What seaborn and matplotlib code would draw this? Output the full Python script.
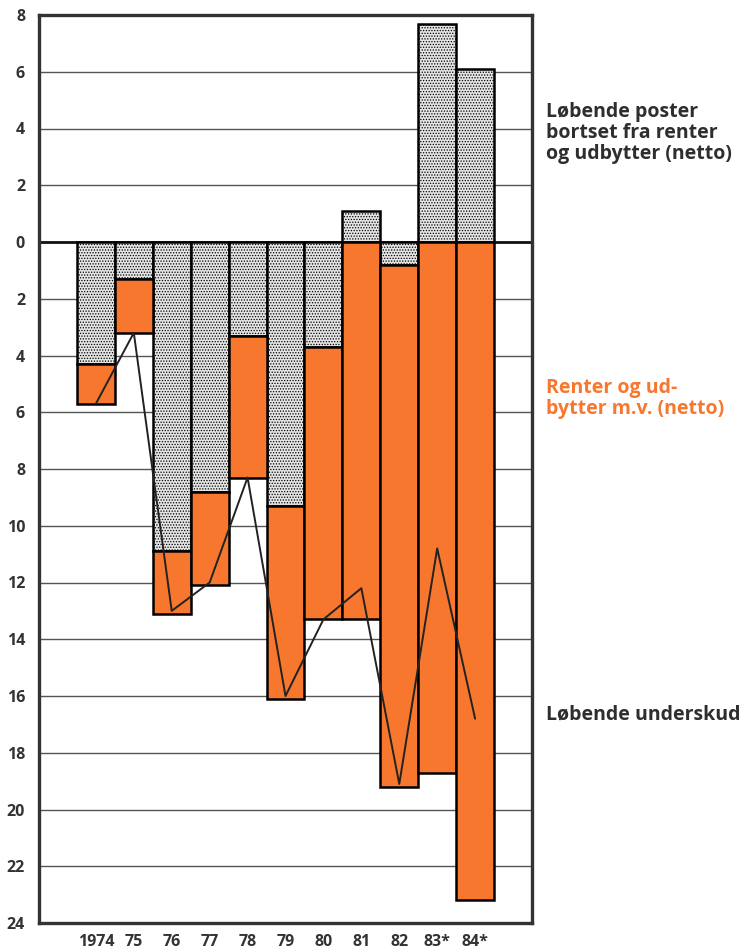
import matplotlib
matplotlib.use("Agg")
import matplotlib.pyplot as plt
import seaborn as sns
import numpy as np

# mia. kr., negative = underskud
years = ['1974', '75', '76', '77', '78', '79', '80', '81', '82', '83*', '84*']
poster = [-4.3, -1.3, -10.9, -8.8, -3.3, -9.3, -3.7, 1.1, -0.8, 7.7, 6.1]
renter = [-1.4, -1.9, -2.2, -3.3, -5.0, -6.8, -9.6, -13.3, -18.4, -18.7, -23.2]
underskud = [-5.7, -3.2, -13.0, -12.0, -8.3, -16.0, -13.3, -12.2, -19.1, -10.8, -16.8]

yticks = list(range(-24, 10, 2))
ylabels = [str(abs(t)) for t in yticks]

orange = '#f7772f'
grey = '#e4e4e4'
dark = '#333333'

sns.set_style('white')
plt.rcParams['font.family'] = ['Open Sans', 'DejaVu Sans']
plt.rcParams['hatch.color'] = '#8a8a8a'
plt.rcParams['hatch.linewidth'] = 0.6

fig = plt.figure(figsize=(7.44, 9.52), dpi=100)
ax = fig.add_axes([39 / 744, 1 - 923 / 952, (532 - 39) / 744, 908 / 952])

# grey bars: current account excl. interest
sns.barplot(x=years, y=poster, color=grey, saturation=1, width=1.0,
            edgecolor='black', linewidth=1.8, hatch='......', ax=ax, zorder=2)

# orange bars: interest and dividends, stacked below grey part
x = np.arange(len(years))
bottom = np.minimum(np.array(poster), 0)
ax.bar(x, renter, bottom=bottom, width=1.0, color=orange,
       edgecolor='black', linewidth=1.8, zorder=2)

# line: total deficit
sns.lineplot(x=x, y=underskud, color='#222222', linewidth=1.4, ax=ax, zorder=4)

ax.set_xlim(-1.5, 11.5)
ax.set_ylim(-24, 8)
ax.set_yticks(yticks)
ax.set_yticklabels(ylabels)
ax.set_xticks(x)
ax.set_xticklabels(years)
ax.set_xlabel('')
ax.set_ylabel('')

for t in yticks:
    if t != 0:
        ax.axhline(t, color='#555555', lw=1.0, zorder=1)
ax.axhline(0, color='#111111', lw=2.0, zorder=1.5)

ax.tick_params(axis='both', length=0, labelsize=11.5, colors=dark)
ax.tick_params(axis='y', pad=10)
ax.tick_params(axis='x', pad=8)
for lab in ax.get_xticklabels() + ax.get_yticklabels():
    lab.set_fontweight('bold')

for s in ax.spines.values():
    s.set_color('#333333')
    s.set_linewidth(2.4)
    s.set_visible(True)

fig.text(546 / 744, 1 - 102 / 952, 'Løbende poster\nbortset fra renter\nog udbytter (netto)',
         ha='left', va='top', fontsize=14, fontweight='bold', color='#2e2e2e',
         linespacing=1.08)
fig.text(546 / 744, 1 - 378 / 952, 'Renter og ud-\nbytter m.v. (netto)',
         ha='left', va='top', fontsize=14, fontweight='bold', color=orange,
         linespacing=1.08)
fig.text(546 / 744, 1 - 714 / 952, 'Løbende underskud',
         ha='left', va='center', fontsize=14, fontweight='bold', color='#2e2e2e')

fig.savefig('out.png', dpi=100)
